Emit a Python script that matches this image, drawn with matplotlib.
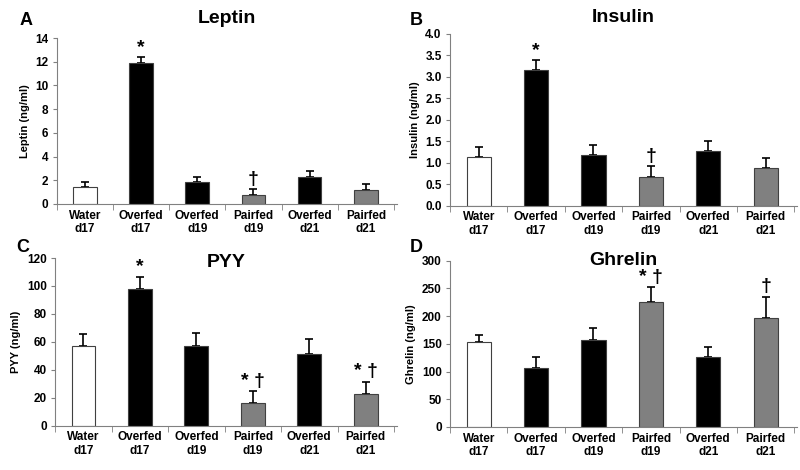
import matplotlib.pyplot as plt

plt.rcParams["font.family"] = ["Liberation Sans", "DejaVu Sans"]
plt.rcParams["font.weight"] = "bold"

groups = ["Water\nd17", "Overfed\nd17", "Overfed\nd19", "Pairfed\nd19", "Overfed\nd21", "Pairfed\nd21"]
bar_colors = ["white", "black", "black", "#808080", "black", "#808080"]

leptin = [1.46, 11.9, 1.83, 0.76, 2.28, 1.15]
leptin_err = [0.43, 0.5, 0.48, 0.48, 0.48, 0.5]
leptin_marks = ["", "*", "", "†", "", ""]

insulin = [1.14, 3.15, 1.19, 0.66, 1.28, 0.88]
insulin_err = [0.22, 0.24, 0.22, 0.26, 0.22, 0.24]
insulin_marks = ["", "*", "", "†", "", ""]

pyy = [57.4, 97.5, 57.4, 16.0, 51.6, 22.5]
pyy_err = [8.3, 9.1, 8.8, 8.9, 10.6, 9.1]
pyy_marks = ["", "*", "", "* †", "", "* †"]

ghrelin = [153, 106, 157.5, 226, 125.7, 196.6]
ghrelin_err = [13.6, 20, 21.5, 26, 18.3, 38.4]
ghrelin_marks = ["", "", "", "* †", "", "†"]

fig = plt.figure(figsize=(8, 4.7), dpi=100)

panels = [
    ("A", "Leptin", "Leptin (ng/ml)", leptin, leptin_err, leptin_marks, 14, 2, "%d",
     [0.071, 0.566, 0.425, 0.353], (0.025, 0.957), 1.12),
    ("B", "Insulin", "Insulin (ng/ml)", insulin, insulin_err, insulin_marks, 4.0, 0.5, "%.1f",
     [0.5625, 0.562, 0.434, 0.366], (0.512, 0.957), 1.093),
    ("C", "PYY", "PYY (ng/ml)", pyy, pyy_err, pyy_marks, 120, 20, "%d",
     [0.069, 0.094, 0.427, 0.357], (0.02, 0.474), 0.975),
    ("D", "Ghrelin", "Ghrelin (ng/ml)", ghrelin, ghrelin_err, ghrelin_marks, 300, 50, "%d",
     [0.5625, 0.0915, 0.434, 0.354], (0.512, 0.474), 1.0),
]

for letter, title, ylabel, vals, errs, marks, ymax, step, fmt, rect, lpos, ty in panels:
    ax = fig.add_axes(rect)
    x = range(len(groups))
    ax.bar(x, vals, width=0.42, color=bar_colors, edgecolor="#404040", linewidth=0.8, zorder=2)
    ax.errorbar(x, vals, yerr=[[0] * len(errs), errs], fmt="none", ecolor="black",
                elinewidth=1.2, capsize=3, capthick=1.2, zorder=1)
    for i, m in enumerate(marks):
        if m:
            ax.annotate(m, (i, vals[i] + errs[i]), xytext=(0, 1), textcoords="offset points",
                        ha="center", va="bottom", fontsize=14, fontweight="bold")
    ax.set_xlim(-0.45, 5.55)
    ax.set_ylim(0, ymax)
    yt = [step * k for k in range(int(round(ymax / step)) + 1)]
    ax.set_yticks(yt)
    ax.set_yticklabels([fmt % v for v in yt], fontsize=8.5, fontweight="bold")
    ax.set_xticks(list(x))
    ax.set_xticklabels(groups, fontsize=8.5, fontweight="bold")
    ax.set_xticks([i + 0.5 for i in range(-1, 6)], minor=True)
    ax.tick_params(axis="x", which="major", length=0, pad=4)
    ax.tick_params(axis="x", which="minor", length=4, color="#808080")
    ax.tick_params(axis="y", length=3, color="#808080", pad=3)
    for s in ["top", "right"]:
        ax.spines[s].set_visible(False)
    for s in ["left", "bottom"]:
        ax.spines[s].set_color("#808080")
    ax.set_ylabel(ylabel, fontsize=8, fontweight="bold")
    ax.text(0.5, ty, title, transform=ax.transAxes, ha="center", va="center",
            fontsize=14, fontweight="bold")
    fig.text(lpos[0], lpos[1], letter, fontsize=13, fontweight="bold", va="center")

fig.savefig("out.png", dpi=100)
